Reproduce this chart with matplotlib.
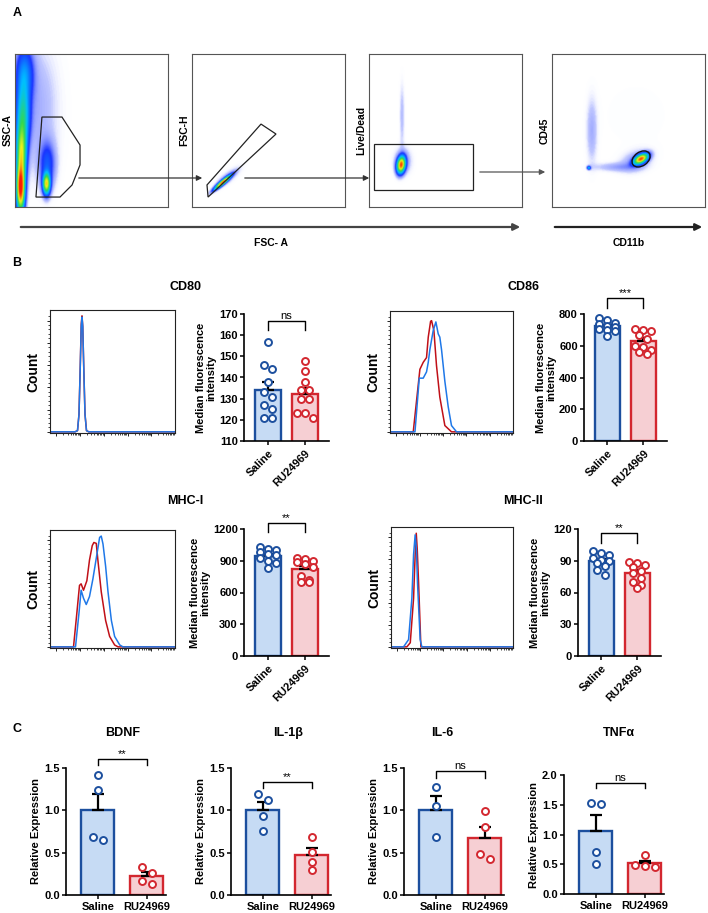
import numpy as np
import matplotlib
matplotlib.use('Agg')
import matplotlib.pyplot as plt
from matplotlib.colors import LinearSegmentedColormap
from matplotlib.patches import Polygon, Rectangle, Ellipse, FancyArrowPatch

plt.rcParams['font.family'] = ['Liberation Sans', 'DejaVu Sans']
plt.rcParams['font.weight'] = 'bold'
plt.rcParams['axes.labelweight'] = 'bold'

# ---------------- data ----------------
groups = ['Saline', 'RU24969']

# panel B, median fluorescence intensity per animal
cd80_saline = [157, 146, 144, 138, 133, 131, 127, 125, 121, 121]
cd80_ru = [148, 143, 138, 134, 134, 130, 130, 123, 123, 121]
cd86_saline = [775, 765, 745, 735, 725, 715, 705, 700, 690, 660]
cd86_ru = [705, 700, 690, 665, 640, 600, 590, 575, 560, 550]
mhc1_saline = [1030, 1010, 1000, 980, 960, 950, 930, 900, 880, 830]
mhc1_ru = [930, 920, 900, 890, 870, 840, 760, 720, 700, 700]
mhc2_saline = [99, 97, 95, 93, 91, 90, 88, 85, 81, 77]
mhc2_ru = [89, 88, 86, 84, 80, 78, 74, 70, 67, 64]

# panel C, relative expression
bdnf_saline = [1.42, 1.24, 0.69, 0.65]
bdnf_ru = [0.33, 0.26, 0.16, 0.13]
il1b_saline = [1.19, 1.12, 0.93, 0.76]
il1b_ru = [0.69, 0.51, 0.39, 0.29]
il6_saline = [1.27, 1.05, 0.69]
il6_ru = [0.99, 0.80, 0.48, 0.43]
tnf_saline = [1.53, 1.51, 0.70, 0.51]
tnf_ru = [0.65, 0.48, 0.47, 0.46]

# histogram overlays (fraction of fluorescence axis, normalised count)
cd80_blue_x = [0.0, 0.20, 0.22, 0.232, 0.242, 0.25, 0.256, 0.262, 0.27, 0.28, 0.292, 0.31, 1.0]
cd80_blue_y = [0.0, 0.0, 0.01, 0.15, 0.55, 0.9, 0.98, 0.9, 0.55, 0.15, 0.01, 0.0, 0.0]
cd80_red_x = [0.0, 0.20, 0.22, 0.232, 0.242, 0.25, 0.256, 0.262, 0.27, 0.28, 0.292, 0.31, 1.0]
cd80_red_y = [0.0, 0.0, 0.01, 0.15, 0.56, 0.92, 0.99, 0.9, 0.55, 0.15, 0.01, 0.0, 0.0]

cd86_red_x = [0.0, 0.189, 0.243, 0.27, 0.297, 0.311, 0.330, 0.338, 0.357, 0.378, 0.405, 0.446, 0.5, 1.0]
cd86_red_y = [0.0, 0.0, 0.538, 0.598, 0.639, 0.815, 0.951, 0.957, 0.870, 0.571, 0.299, 0.054, 0.0, 0.0]
cd86_blue_x = [0.0, 0.203, 0.238, 0.27, 0.297, 0.311, 0.324, 0.351, 0.373, 0.392, 0.405, 0.419,
               0.446, 0.473, 0.5, 0.541, 1.0]
cd86_blue_y = [0.0, 0.0, 0.462, 0.462, 0.516, 0.598, 0.707, 0.870, 0.946, 0.843, 0.815, 0.707,
               0.435, 0.217, 0.054, 0.0, 0.0]

mhc1_red_x = [0.0, 0.188, 0.214, 0.236, 0.249, 0.268, 0.295, 0.316, 0.338, 0.351, 0.370, 0.383,
              0.410, 0.445, 0.477, 0.517, 0.544, 1.0]
mhc1_red_y = [0.0, 0.0, 0.292, 0.547, 0.561, 0.504, 0.589, 0.773, 0.901, 0.929, 0.921, 0.773,
              0.490, 0.235, 0.093, 0.017, 0.0, 0.0]
mhc1_blue_x = [0.0, 0.204, 0.231, 0.249, 0.268, 0.290, 0.316, 0.343, 0.370, 0.397, 0.410, 0.424,
               0.445, 0.464, 0.491, 0.517, 0.558, 0.584, 1.0]
mhc1_blue_y = [0.0, 0.0, 0.292, 0.504, 0.433, 0.377, 0.448, 0.603, 0.788, 0.974, 0.986, 0.915,
               0.717, 0.490, 0.235, 0.093, 0.017, 0.0, 0.0]

mhc2_blue_x = [0.0, 0.103, 0.144, 0.171, 0.185, 0.198, 0.208, 0.217, 0.239, 0.253, 1.0]
mhc2_blue_y = [0.0, 0.0, 0.063, 0.421, 0.8, 0.972, 0.85, 0.559, 0.063, 0.0, 0.0]
mhc2_red_x = [0.0, 0.13, 0.158, 0.185, 0.198, 0.207, 0.215, 0.226, 0.245, 1.0]
mhc2_red_y = [0.0, 0.0, 0.036, 0.421, 0.8, 0.986, 0.85, 0.559, 0.0, 0.0]

# flow cytometry dot plots: density blobs (x, y, sx, sy, rho, weight), axis fractions
flow1_blobs = [(0.035, 0.12, 0.018, 0.10, 0.0, 1.0),
               (0.04, 0.35, 0.022, 0.12, 0.0, 0.6),
               (0.05, 0.60, 0.03, 0.14, 0.0, 0.35),
               (0.06, 0.88, 0.04, 0.12, 0.0, 0.2),
               (0.14, 0.65, 0.10, 0.30, 0.0, 0.05),
               (0.205, 0.15, 0.016, 0.045, 0.0, 0.7),
               (0.21, 0.28, 0.035, 0.10, 0.0, 0.15)]
flow2_blobs = [(0.20, 0.16, 0.035, 0.03, 0.92, 0.9),
               (0.23, 0.19, 0.06, 0.05, 0.8, 0.05)]
flow3_blobs = [(0.209, 0.275, 0.018, 0.035, 0.2, 0.9),
               (0.22, 0.30, 0.04, 0.06, 0.0, 0.06),
               (0.215, 0.60, 0.012, 0.15, 0.0, 0.04)]
flow4_blobs = [(0.582, 0.314, 0.03, 0.022, 0.5, 0.9),
               (0.55, 0.30, 0.07, 0.05, 0.3, 0.06),
               (0.26, 0.50, 0.025, 0.15, 0.0, 0.05),
               (0.42, 0.26, 0.10, 0.02, 0.0, 0.05),
               (0.24, 0.255, 0.008, 0.008, 0.0, 0.3),
               (0.55, 0.60, 0.20, 0.20, 0.0, 0.006)]

gate1 = [(0.176, 0.588), (0.307, 0.588), (0.425, 0.405), (0.425, 0.275),
         (0.373, 0.144), (0.294, 0.065), (0.137, 0.065)]
gate2 = [(0.098, 0.144), (0.451, 0.542), (0.549, 0.477), (0.105, 0.065)]
gate3 = (0.033, 0.111, 0.647, 0.301)   # x, y, w, h
gate4 = (0.582, 0.314, 0.13, 0.09, 35)  # cx, cy, w, h, angle

# ---------------- figure ----------------
W, H = 708, 913
fig = plt.figure(figsize=(W / 100, H / 100), dpi=100)

BLUE_EDGE, BLUE_FILL = '#1c4f9e', '#c6dbf4'
RED_EDGE, RED_FILL = '#d3272f', '#f6cfd3'
HIST_BLUE, HIST_RED = '#1f78e8', '#c01018'
TICK_FS, LAB_FS, TITLE_FS = 8, 8, 9


def px_axes(x0, y0, x1, y1):
    return fig.add_axes([x0 / W, 1 - y1 / H, (x1 - x0) / W, (y1 - y0) / H])


def ftext(x, y, s, **kw):
    fig.text(x / W, 1 - y / H, s, **kw)


def farrow(x0, x1, y, lw=0.9, scale=8, color='#333333'):
    fig.add_artist(FancyArrowPatch((x0 / W, 1 - y / H), (x1 / W, 1 - y / H),
                                   transform=fig.transFigure, arrowstyle='-|>',
                                   mutation_scale=scale, lw=lw, color=color))


# panel labels
ftext(17, 13, 'A', fontsize=9, ha='center', va='center')
ftext(17, 263, 'B', fontsize=9, ha='center', va='center')
ftext(17, 729, 'C', fontsize=9, ha='center', va='center')

# ---------------- panel A ----------------
flow_cmap = LinearSegmentedColormap.from_list('flow', [
    (0.0, (1, 1, 1, 0)), (0.03, (0.55, 0.6, 1, 0.55)), (0.12, (0.1, 0.2, 1, 1)),
    (0.3, (0, 0.75, 1, 1)), (0.5, (0.2, 0.85, 0.3, 1)), (0.72, (0.95, 0.95, 0.1, 1)),
    (1.0, (1, 0.1, 0, 1))])


def density(blobs, n=240):
    g = np.linspace(0, 1, n)
    X, Y = np.meshgrid(g, g)
    Z = np.zeros_like(X)
    for cx, cy, sx, sy, rho, w in blobs:
        dx = (X - cx) / sx
        dy = (Y - cy) / sy
        q = (dx * dx - 2 * rho * dx * dy + dy * dy) / (1 - rho * rho)
        Z += w * np.exp(-0.5 * q)
    return Z


def flow_axes(x0, blobs, ylab):
    ax = px_axes(x0, 54, x0 + 153, 207)
    ax.imshow(density(blobs), origin='lower', extent=(0, 1, 0, 1), cmap=flow_cmap,
              vmin=0, vmax=1, interpolation='bilinear', aspect='auto')
    ax.set_xlim(0, 1)
    ax.set_ylim(0, 1)
    ax.set_xticks([])
    ax.set_yticks([])
    for s in ax.spines.values():
        s.set_color('#555555')
        s.set_linewidth(0.8)
    ax.set_ylabel(ylab, fontsize=7.5, labelpad=2)
    return ax


a1 = flow_axes(15, flow1_blobs, 'SSC-A')
a1.add_patch(Polygon(gate1, closed=True, fill=False, ec='#222222', lw=0.9))
a2 = flow_axes(192, flow2_blobs, 'FSC-H')
a2.add_patch(Polygon(gate2, closed=True, fill=False, ec='#222222', lw=0.9))
a3 = flow_axes(369, flow3_blobs, 'Live/Dead')
a3.add_patch(Rectangle(gate3[:2], gate3[2], gate3[3], fill=False, ec='#222222', lw=0.9))
a4 = flow_axes(552, flow4_blobs, 'CD45')
a4.add_patch(Ellipse(gate4[:2], gate4[2], gate4[3], angle=gate4[4], fill=False,
                     ec='#111111', lw=1.0))

farrow(76, 205, 178)
farrow(242, 372, 178)
farrow(477, 548, 172, color='#555555')
farrow(18, 523, 227, lw=1.6, scale=10, color='#444444')
farrow(552, 705, 227, lw=1.6, scale=10, color='#222222')
ftext(271, 243, 'FSC- A', fontsize=7.5, ha='center', va='center')
ftext(629, 243, 'CD11b', fontsize=7.5, ha='center', va='center')

# ---------------- panel B ----------------
def hist_axes(x0, y0, x1, y1, bx, by, rx, ry):
    ax = px_axes(x0, y0, x1, y1)
    ax.plot(rx, ry, color=HIST_RED, lw=1.1)
    ax.plot(bx, by, color=HIST_BLUE, lw=1.1)
    ax.set_xlim(0, 1)
    ax.set_ylim(-0.01, 1.04)
    for s in ax.spines.values():
        s.set_color('#222222')
        s.set_linewidth(0.8)
    ax.set_yticks([0, 0.19, 0.38, 0.57, 0.76, 0.95])
    ax.set_yticks(np.arange(0, 1.0, 0.038), minor=True)
    major = [0.05 + 0.19 * d for d in range(5)]
    minor = [0.05 + 0.19 * (d + np.log10(k)) for d in range(5) for k in range(2, 10)
             if 0.05 + 0.19 * (d + np.log10(k)) < 1]
    ax.set_xticks(major)
    ax.set_xticks(minor, minor=True)
    ax.set_xticklabels([])
    ax.set_yticklabels([])
    ax.tick_params(which='major', length=2.5, width=0.6)
    ax.tick_params(which='minor', length=1.3, width=0.5)
    ax.set_ylabel('Count', fontsize=10, labelpad=1)
    return ax


def swarm(vals, tol, step, maxn=3):
    order = np.argsort(vals)[::-1]
    offs = np.zeros(len(vals))
    grp = []
    for i in order:
        if grp and abs(vals[grp[-1][0]] - vals[i]) < tol and len(grp[-1]) < maxn:
            grp[-1].append(i)
        else:
            grp.append([i])
    for g in grp:
        n = len(g)
        for k, i in enumerate(g):
            offs[i] = (k - (n - 1) / 2) * step
    return offs


def bar_axes(x0, y0, unit, y1, xlim, sets, ylim, yticks, ylabel, width, step, rotate):
    x1 = x0 + (xlim[1] - xlim[0]) * unit
    ax = px_axes(x0, y0, x1, y1)
    for i, (vals, edge, fill) in enumerate(sets):
        vals = np.array(vals, dtype=float)
        m = vals.mean()
        sem = vals.std(ddof=1) / np.sqrt(len(vals))
        ax.bar(i, m, width, color=fill, edgecolor=edge, linewidth=1.7, zorder=2)
        ax.errorbar(i, m, yerr=[[0], [sem]], fmt='none', ecolor='black', elinewidth=1.6,
                    capsize=4.5, capthick=1.6, zorder=3)
        offs = swarm(vals, 0.05 * (ylim[1] - ylim[0]), step)
        ax.plot(i + offs, vals, 'o', ms=5, mfc='white', mec=edge, mew=1.4,
                zorder=4, clip_on=False)
    ax.set_xlim(*xlim)
    ax.set_ylim(*ylim)
    ax.set_yticks(yticks)
    ax.set_xticks([0, 1])
    if rotate:
        ax.set_xticklabels(groups, rotation=45, ha='right', rotation_mode='anchor',
                           fontsize=TICK_FS)
    else:
        ax.set_xticklabels(groups, fontsize=TICK_FS)
    ax.tick_params(axis='y', labelsize=TICK_FS, length=3, width=1.1, pad=1.5)
    ax.tick_params(axis='x', length=3, width=1.1, pad=2)
    for s in ('top', 'right'):
        ax.spines[s].set_visible(False)
    for s in ('left', 'bottom'):
        ax.spines[s].set_linewidth(1.2)
    ax.set_ylabel(ylabel, fontsize=LAB_FS, labelpad=2, linespacing=1.05)
    return ax


def bracket(ax, y, yend, label):
    ax.plot([0, 0, 1, 1], [yend, y, y, yend], color='black', lw=1.0, clip_on=False)
    ax.text(0.5, y, label, ha='center', va='bottom', fontsize=8, fontweight='normal')


MFI = 'Median fluorescence\nintensity'
B_XLIM = (-0.65, 1.65)

ftext(185, 287, 'CD80', fontsize=TITLE_FS, ha='center', va='center')
hist_axes(50, 310, 175, 433, cd80_blue_x, cd80_blue_y, cd80_red_x, cd80_red_y)
ax = bar_axes(244, 314, 37, 441, B_XLIM, [(cd80_saline, BLUE_EDGE, BLUE_FILL),
                                            (cd80_ru, RED_EDGE, RED_FILL)],
              (110, 170), range(110, 171, 10), MFI, 0.68, 0.22, True)
bracket(ax, 166.9, 162.4, 'ns')

ftext(523, 287, 'CD86', fontsize=TITLE_FS, ha='center', va='center')
hist_axes(390, 311, 513, 433, cd86_blue_x, cd86_blue_y, cd86_red_x, cd86_red_y)
ax = bar_axes(584, 314, 36, 441, B_XLIM, [(cd86_saline, BLUE_EDGE, BLUE_FILL),
                                            (cd86_ru, RED_EDGE, RED_FILL)],
              (0, 800), range(0, 801, 200), MFI, 0.68, 0.22, True)
bracket(ax, 899, 835, '***')

ftext(185, 501, 'MHC-I', fontsize=TITLE_FS, ha='center', va='center')
hist_axes(50, 530, 175, 648, mhc1_blue_x, mhc1_blue_y, mhc1_red_x, mhc1_red_y)
ax = bar_axes(244, 529, 37, 656, B_XLIM, [(mhc1_saline, BLUE_EDGE, BLUE_FILL),
                                            (mhc1_ru, RED_EDGE, RED_FILL)],
              (0, 1200), range(0, 1201, 300), MFI, 0.68, 0.22, True)
bracket(ax, 1257, 1168, '**')

ftext(523, 501, 'MHC-II', fontsize=TITLE_FS, ha='center', va='center')
hist_axes(391, 527, 513, 648, mhc2_blue_x, mhc2_blue_y, mhc2_red_x, mhc2_red_y)
ax = bar_axes(578, 529, 36, 656, B_XLIM, [(mhc2_saline, BLUE_EDGE, BLUE_FILL),
                                            (mhc2_ru, RED_EDGE, RED_FILL)],
              (0, 120), range(0, 121, 30), MFI, 0.68, 0.22, True)
bracket(ax, 116.2, 106.7, '**')

# ---------------- panel C ----------------
C_XLIM = (-0.65, 1.4)
REL = 'Relative Expression'
c_sets = [
    ('BDNF', 123, 66, 768, 895, bdnf_saline, bdnf_ru, (0, 1.5), [0, 0.5, 1.0, 1.5], 1.607, 1.54, '**'),
    ('IL-1β', 288, 231, 768, 895, il1b_saline, il1b_ru, (0, 1.5), [0, 0.5, 1.0, 1.5], 1.33, 1.26, '**'),
    ('IL-6', 442, 404, 768, 895, il6_saline, il6_ru, (0, 1.5), [0, 0.5, 1.0, 1.5], 1.46, 1.38, 'ns'),
    ('TNFα', 619, 564, 775, 894, tnf_saline, tnf_ru, (0, 2.0), [0, 0.5, 1.0, 1.5, 2.0], 1.87, 1.78, 'ns'),
]
for title, tx, x0, y0, y1, sal, ru, ylim, yt, by, bend, lab in c_sets:
    ftext(tx, 733, title, fontsize=TITLE_FS, ha='center', va='center')
    ax = bar_axes(x0, y0, 49, y1, C_XLIM, [(sal, BLUE_EDGE, BLUE_FILL), (ru, RED_EDGE, RED_FILL)],
                  ylim, yt, REL, 0.67, 0.2, False)
    ax.yaxis.set_major_formatter(matplotlib.ticker.FormatStrFormatter('%.1f'))
    bracket(ax, by, bend, lab)

fig.savefig('out.png', dpi=100)
